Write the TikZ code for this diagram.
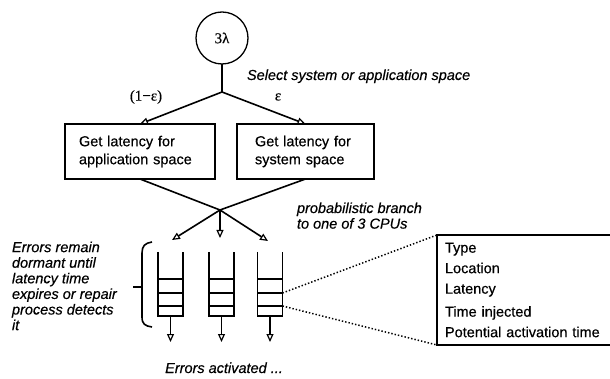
\documentclass[tikz,border=0pt]{standalone}
\usepackage{fontspec}
\setmainfont[FakeBold=0.4]{Liberation Sans}
\newfontfamily\grk[FakeBold=0.4]{Liberation Serif}
\usetikzlibrary{arrows.meta,calc}
\begin{document}
\begin{tikzpicture}[x=1pt,y=-1pt,
  line width=1.6pt,
  every node/.style={inner sep=0pt, outer sep=0pt},
  note/.style={font=\fontsize{14.5}{15.6}\selectfont\itshape, align=left},
  sym/.style={font=\grk\fontsize{15}{15}\selectfont},
  latbox/.style={draw, line width=1.8pt, align=left, minimum height=55pt,
                 font=\fontsize{14.5}{18}\selectfont},
  arr/.style={-{Triangle[open,length=8pt,width=7pt,line width=1.2pt]}},
  queue/.style={minimum width=25pt, minimum height=64pt},
  qline/.style={line width=1.6pt},
  dots/.style={line width=1.5pt, dash pattern=on 1.4pt off 2pt},
]
\useasboundingbox (0,0) rectangle (610,379);

% error source and the system/application split
\node[circle, draw, line width=1.3pt, minimum size=52pt, sym] (src) at (222,38) {3λ};
\coordinate (br) at (222,92);
\draw (src.south) -- (br);
\node[sym] (pa) at (146,97) {(1−ε)};
\node[sym] (pe) at (278,97) {ε};
\node[note, anchor=base west] (sel) at (247,80) {Select system or application space};

\node[latbox, minimum width=150pt, text width=122pt, inner xsep=14pt] (app) at (140,151.5)
  {Get latency for\\application space};
\node[latbox, minimum width=137pt, text width=101pt, inner xsep=18pt] (sys) at (305.5,151.5)
  {Get latency for\\system space};
\draw[arr] (br) -- (app.north);
\draw[arr] (br) -- (sys.north);

% per-CPU error queues
\node[queue] (q1) at (170.5,284) {};
\node[queue] (q2) at (221.5,284) {};
\node[queue] (q3) at (270,284) {};
\foreach \q in {q1,q2,q3}{
  \draw[qline] (\q.north west) -- (\q.south west) -- (\q.south east) -- (\q.north east);
  \foreach \d in {10,23,37}
    \draw[qline] ($(\q.south west)+(0,-\d)$) -- ($(\q.south east)+(0,-\d)$);
}

% both latency paths merge, then branch to one of the CPUs
\coordinate (jn) at (220,210);
\coordinate (t1) at (172,240);
\coordinate (t2) at (220,238);
\coordinate (t3) at (268,241);
\draw (app.south) -- (jn);
\draw (sys.south) -- (jn);
\draw[arr] (jn) -- (t1);
\draw[arr] (jn) -- (t2);
\draw[arr] (jn) -- (t3);
\node[note, anchor=north west] (prob) at (297,202.5) {probabilistic branch\\to one of 3 CPUs};

% activation outputs
\coordinate (e1) at (170.5,342);
\coordinate (e2) at (221.5,342);
\coordinate (e3) at (270,342);
\draw[arr] (q1.south) -- (e1);
\draw[arr] (q2.south) -- (e2);
\draw[arr] (q3.south) -- (e3);
\node[note, anchor=base] (act) at (224,373) {Errors activated ...};

% dormancy note and brace
\node[note, anchor=north west] (dorm) at (12,241.6)
  {Errors remain\\dormant until\\latency time\\expires or repair\\process detects\\it};
\draw[qline] (152,242) .. controls (145,243) and (142,246) .. (142,253) -- (142,317)
  .. controls (142,324) and (145,326) .. (152,327);
\draw[qline] (133,287) -- (142,287);

% error record fields
\node[font=\fontsize{14.5}{20.5}\selectfont, align=left, text width=157pt, inner xsep=8pt,
      minimum height=110pt, anchor=north west] (det) at (437,235)
  {Type\\Location\\Latency\\[2.5pt]Time injected\\Potential activation time};
\draw[line width=1.8pt] (det.north east) -- (det.north west) -- (det.south west) -- (det.south east);
\coordinate (d1) at ($(q3.south east)+(0,-23)$);
\coordinate (d2) at ($(q3.south east)+(0,-10)$);
\draw[dots] (d1) -- (det.north west);
\draw[dots] (d2) -- (det.south west);
\end{tikzpicture}
\end{document}
